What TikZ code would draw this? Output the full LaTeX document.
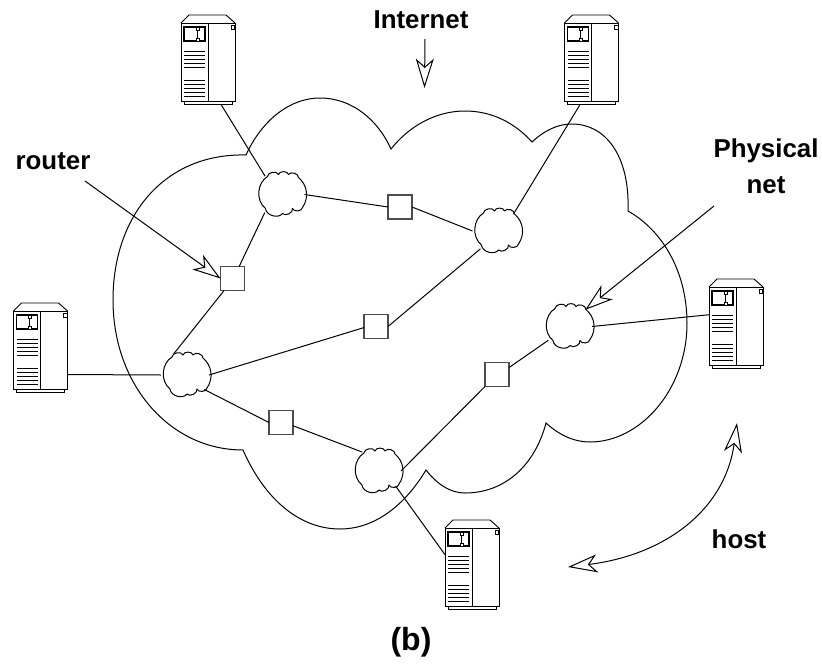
\documentclass[tikz,border=0pt]{standalone}
\usepackage{fontspec}
\setmainfont{Liberation Sans}
\usetikzlibrary{arrows.meta}
\tikzset{
  netline/.style={line width=0.75pt,black},
  hostbox/.style={rectangle,minimum width=40.5pt,minimum height=66.75pt,inner sep=0pt,outer sep=0pt},
  cloudbox/.style={circle,minimum size=36pt,inner sep=0pt,outer sep=0pt},
  routerbox/.style={rectangle,draw=black!70,line width=1pt,fill=white,minimum size=18pt,inner sep=0pt,outer sep=0pt},
  label/.style={font=\fontsize{19.4}{27}\selectfont\bfseries,inner sep=0pt,align=center},
  openhead/.style={-{Stealth[open,length=#1,width=13.5pt,inset=6pt,fill=white]}},
  hostparts/.style={line width=0.7pt,black},
}
\newcommand{\hostat}[3]{%
  \begin{scope}[shift={(#2,#3)}]
    \node[hostbox] (#1) at (27,36.5) {};
    \draw[hostparts,fill=white] (0,0) rectangle (54,78);
    \draw[hostparts] (0,0) -- (8,-8) -- (45,-8) -- (54,0);
    \draw[hostparts] (3,78) -- (3,81) -- (51,81) -- (51,78);
    \draw[hostparts] (27,0) -- (27,78);
    \draw[hostparts,line width=1.1pt] (3,4) rectangle (24,18);
    \draw[hostparts,line width=0.5pt] (16,4) -- (16,18);
    \draw[hostparts,line width=0.5pt,fill=white] (15,4) rectangle (18,7);
    \draw[hostparts,line width=0.5pt,fill=white] (15,15) rectangle (18,18);
    \draw[hostparts,line width=0.5pt] (50,2) rectangle (53.5,6);
    \foreach \ly in {28,32,36,40,44,57,61,65,69,73}
      \draw[hostparts,line width=0.6pt] (3,\ly) -- (24,\ly);
  \end{scope}}
\newcommand{\cloudat}[3]{%
  \node[cloudbox] (#1) at (#2,#3) {};
  \begin{scope}[shift={(#2,#3)}]
    \draw[netline,fill=white,line join=round]
      (-13,-18) to[bend left=80] (-2,-20) to[bend left=80] (8,-20)
      to[bend left=75] (18,-17) to[bend left=42] (22,13)
      to[bend left=80] (12,14) to[bend left=75] (2,19)
      to[bend left=70] (-15,14) to[bend left=55] (-13,-18) -- cycle;
  \end{scope}}
\begin{document}
\begin{tikzpicture}[x=0.75pt,y=-0.75pt]
\useasboundingbox (0,0) rectangle (822,668);
% large cloud
\draw[netline]
  (246,155) .. controls (262,120) and (290,98) .. (320,98)
  .. controls (352,98) and (378,120) .. (391,149)
  .. controls (410,125) and (437,111) .. (465,111)
  .. controls (492,111) and (515,123) .. (532,142)
  .. controls (545,130) and (558,124) .. (572,124)
  .. controls (605,124) and (630,155) .. (628,211)
  .. controls (665,232) and (687,275) .. (687,323)
  .. controls (687,390) and (640,442) .. (590,442)
  .. controls (573,442) and (558,434) .. (546,423)
  .. controls (535,465) and (505,493) .. (465,493)
  .. controls (450,493) and (437,484) .. (426,470)
  .. controls (405,505) and (375,529) .. (340,529)
  .. controls (300,529) and (265,500) .. (243,450)
  .. controls (170,450) and (113,385) .. (113,300)
  .. controls (113,215) and (165,153) .. (246,155) -- cycle;
% routers
\node[routerbox] (r1) at (232.5,278.5) {};
\node[routerbox] (r2) at (400,207) {};
\node[routerbox] (r3) at (376,326.5) {};
\node[routerbox] (r4) at (281,422.5) {};
\node[routerbox] (r5) at (497,374.5) {};
% physical nets
\cloudat{c1}{280.5}{194.5}
\cloudat{c2}{496.5}{231}
\cloudat{c3}{185}{375}
\cloudat{c4}{377}{471}
\cloudat{c5}{568}{326.5}
% hosts
\hostat{h1}{181}{23}
\hostat{h2}{564.5}{23}
\hostat{h3}{13.5}{311}
\hostat{h4}{709}{287}
\hostat{h5}{445}{528}
% connectors
\draw[netline] (h1.-74) -- (c1.130);
\draw[netline] (h2.-104) -- (c2.45);
\draw[netline] (h3.-45.5) -- (c3.west);
\draw[netline] (h4.162.5) -- (c5.east);
\draw[netline] (h5.160.6) -- (c4.-39);
\draw[netline] (c1.229) -- (r1.61);
\draw[netline] (c1.east) -- (r2.west);
\draw[netline] (r2.east) -- (c2.west);
\draw[netline] (c2.228) -- (r3.east);
\draw[netline] (r3.185) -- (c3.east);
\draw[netline] (c3.118) -- (r1.235);
\draw[netline] (c3.-37) -- (r4.west);
\draw[netline] (r4.-15) -- (c4.128);
\draw[netline] (c4.east) -- (r5.south west);
\draw[netline] (r5.30) -- (c5.215);
% labels
\node[label] (tinternet) at (421,20) {Internet};
\node[label] (trouter) at (53,161) {router};
\node[label] (tphys) at (766,166) {Physical\\net};
\node[label] (thost) at (739,539) {host};
\node[label,font=\fontsize{24}{28}\selectfont\bfseries] (tb) at (411,642) {(b)};
% pointer arrows
\coordinate (ai) at (425,39);
\coordinate (aib) at (424.5,88);
\coordinate (ar) at (85,181);
\coordinate (ap) at (714,206);
\coordinate (ha) at (568,567);
\coordinate (hb) at (737,423);
\draw[netline,openhead=22pt] (ai) -- (aib);
\draw[netline,openhead=21pt] (ar) -- (r1.west);
\draw[netline,openhead=21pt] (ap) -- (c5.44);
\draw[netline,{Stealth[open,length=22pt,width=13.5pt,inset=6pt,fill=white]}-{Stealth[open,length=22pt,width=13.5pt,inset=6pt,fill=white]}]
  (ha) .. controls (665,555) and (725,510) .. (hb);
\end{tikzpicture}
\end{document}
